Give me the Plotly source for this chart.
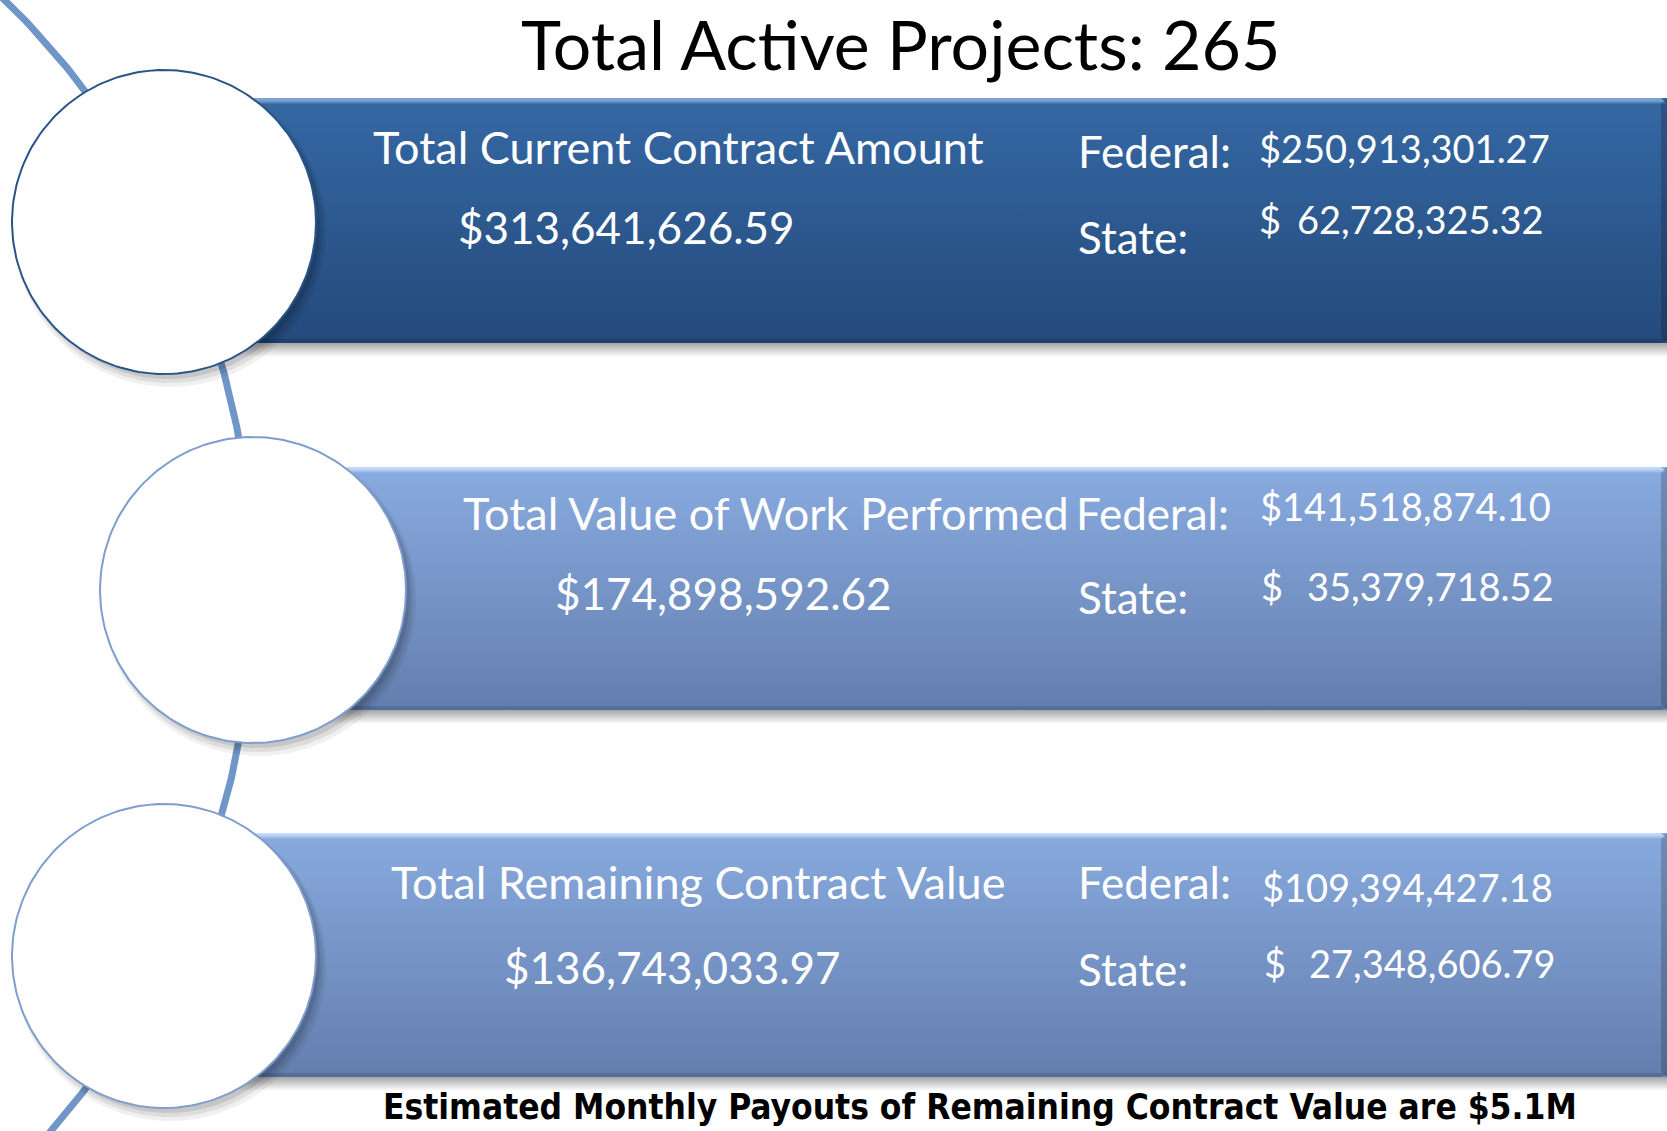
import numpy as np
import plotly.graph_objects as go

# ---------------- data ----------------
title_label = "Total Active Projects"
active_projects = 265
categories = ["Total Current Contract Amount",
              "Total Value of Work Performed",
              "Total Remaining Contract Value"]
totals = [313641626.59, 174898592.62, 136743033.97]
federal = [250913301.27, 141518874.10, 109394427.18]
state = [62728325.32, 35379718.52, 27348606.79]
monthly_payout_m = 5.1
footer_text = "Estimated Monthly Payouts of Remaining Contract Value are ${:.1f}M"

# ---------------- layout / style ----------------
W, H = 1667, 1131
band_geo = [
    dict(x0=164, y0=98, y1=343, cx=164, cy=222, r=152,
         top="#3568a4", bot="#244a7b", hi="#6f9fdc", edge="#1c3c66", ring="#2a5487",
         label=(678, 147), total=(626, 227), fed=(1076, 151), fedv=(1257, 148),
         st=(1076, 237), stv=(1257, 1546, 219)),
    dict(x0=253, y0=467, y1=710, cx=253, cy=590, r=153,
         top="#89abe0", bot="#637ead", hi="#c3ddff", edge="#4e6691", ring="#7f9dcd",
         label=(766, 513), total=(723, 593), fed=(1074, 513), fedv=(1258, 506),
         st=(1076, 597), stv=(1259, 1556, 586)),
    dict(x0=164, y0=833, y1=1077, cx=164, cy=956, r=152,
         top="#88aade", bot="#637ead", hi="#c3ddff", edge="#4e6691", ring="#7f9dcd",
         label=(698, 882), total=(672, 967), fed=(1076, 882), fedv=(1260, 887),
         st=(1076, 969), stv=(1262, 1558, 963)),
]
CAL = "Lato, 'Open Sans', sans-serif"
S_LABEL, S_TOTAL, S_FS, S_VAL = 45, 44, 44, 38

fig = go.Figure()

def poly(xs, ys, **kw):
    fig.add_trace(go.Scatter(x=list(xs), y=list(ys), mode="lines", fill="toself",
                             line=dict(width=0), hoverinfo="skip", showlegend=False, **kw))

# connecting arc (behind everything)
acx, acy, R = -573, 590, 826
t = np.linspace(np.arcsin((-15 - acy) / R), np.arcsin((H + 15 - acy) / R), 300)
fig.add_trace(go.Scatter(x=acx + R * np.cos(t), y=acy + R * np.sin(t), mode="lines",
                         line=dict(color="#7095c7", width=7), hoverinfo="skip", showlegend=False))

for b in band_geo:
    x0, x1, y0, y1 = b["x0"], W, b["y0"], b["y1"]
    # band shadow
    poly([x0, x1, x1, x0, x0], [y1, y1, y1 + 14, y1 + 14, y1],
         fillgradient=dict(type="vertical", start=y1, stop=y1 + 14,
                           colorscale=[[0, "rgba(0,0,0,0.35)"], [1, "rgba(0,0,0,0)"]]))
    # band body
    poly([x0, x1, x1, x0, x0], [y0, y0, y1, y1, y0],
         fillgradient=dict(type="vertical", start=y0, stop=y1,
                           colorscale=[[0, b["top"]], [1, b["bot"]]]))
    # top highlight
    poly([x0, x1 - 6, x1, x0, x0], [y0, y0, y0 + 6, y0 + 6, y0],
         fillgradient=dict(type="vertical", start=y0, stop=y0 + 6,
                           colorscale=[[0, b["hi"]], [1, "rgba(255,255,255,0)"]]))
    # bottom dark edge
    poly([x0, x1, x1 - 6, x0, x0], [y1 - 4, y1 - 4, y1, y1, y1 - 4], fillcolor=b["edge"], opacity=0.7)
    # right bevel
    poly([x1 - 6, x1, x1, x1 - 6, x1 - 6], [y0 + 6, y0, y1, y1 - 6, y0 + 6],
         fillcolor="rgba(0,0,0,0.18)")

for b in band_geo:
    cx, cy, r = b["cx"], b["cy"], b["r"]
    a = np.linspace(0, 2 * np.pi, 200)
    # soft shadow
    for dx, dy, dr, al in [(6, 9, 4, 0.06), (5, 7, 2, 0.08), (4, 5, 0, 0.10)]:
        poly(cx + dx + (r + dr) * np.cos(a), cy + dy + (r + dr) * np.sin(a),
             fillcolor=f"rgba(0,0,0,{al})")
    fig.add_trace(go.Scatter(x=cx + r * np.cos(a), y=cy + r * np.sin(a), mode="lines",
                             fill="toself", fillcolor="white",
                             line=dict(color=b["ring"], width=2),
                             hoverinfo="skip", showlegend=False))

ann = []
def txt(x, y, s, size, xanchor="left", color="white", family=CAL, **kw):
    ann.append(dict(x=x, y=y, xref="x", yref="y", text=s, showarrow=False,
                    xanchor=xanchor, yanchor="middle",
                    font=dict(family=family, size=size, color=color), **kw))

for i, b in enumerate(band_geo):
    txt(*b["label"], categories[i], S_LABEL, xanchor="center")
    txt(*b["total"], f"${totals[i]:,.2f}", S_TOTAL, xanchor="center")
    txt(*b["fed"], "Federal:", S_FS)
    txt(*b["fedv"], f"${federal[i]:,.2f}", S_VAL)
    txt(*b["st"], "State:", S_FS)
    sx, ex, sy = b["stv"]
    txt(sx, sy, "$", S_VAL)
    txt(ex, sy, f"{state[i]:,.2f}", S_VAL, xanchor="right")

txt(900, 43, f"{title_label}: {active_projects}", 68, xanchor="center", color="black")
txt(980, 1107, f"<b>{footer_text.format(monthly_payout_m)}</b>", 35, xanchor="center",
    color="black", family="'Liberation Sans Narrow', 'DejaVu Sans Condensed', 'Arial Narrow', sans-serif")

fig.update_layout(
    width=W, height=H, margin=dict(l=0, r=0, t=0, b=0),
    paper_bgcolor="white", plot_bgcolor="white", showlegend=False,
    xaxis=dict(range=[0, W], visible=False, fixedrange=True),
    yaxis=dict(range=[H, 0], visible=False, fixedrange=True),
    annotations=ann,
)
fig.write_html("out.html", config={"displayModeBar": False, "staticPlot": True},
               post_script="document.body.style.margin='0';document.body.style.overflow='hidden';")
